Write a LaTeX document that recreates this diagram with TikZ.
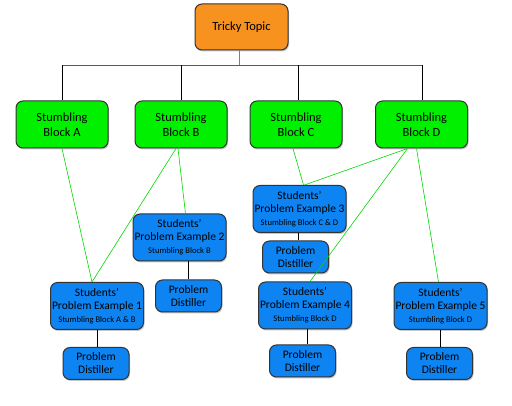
\documentclass[tikz,border=0pt]{standalone}
\usepackage{fontspec}
\setmainfont{Carlito}
\usetikzlibrary{shadows}
\definecolor{topicorange}{HTML}{F7921E}
\definecolor{blockgreen}{HTML}{00F000}
\definecolor{exblue}{HTML}{0D84F2}
\definecolor{boxedge}{HTML}{333333}

\begin{document}
\begin{tikzpicture}[x=1pt, y=-1pt,
  box/.style={draw=boxedge, line width=1pt, rounded corners=7pt, align=center,
    inner sep=0pt, drop shadow={shadow xshift=1pt, shadow yshift=-1.5pt, opacity=0.45}},
  topicbox/.style={box, fill=topicorange, minimum width=93pt, minimum height=46pt, font=\fontsize{12.5}{14}\selectfont},
  blockbox/.style={box, fill=blockgreen, minimum width=92pt, minimum height=47pt, font=\fontsize{12.5}{15}\selectfont},
  examplebox/.style={box, fill=exblue, minimum width=93pt, minimum height=47pt, font=\fontsize{11.5}{13}\selectfont},
  distillbox/.style={box, fill=exblue, minimum width=66pt, minimum height=32pt, font=\fontsize{11.5}{13}\selectfont},
  greenlink/.style={draw=green!85!black, line width=0.6pt}]
\useasboundingbox (0,0) rectangle (512,406);

% Topic and blocks
\node[topicbox] (topic) at (241.5,27) {Tricky Topic};
\node[blockbox] (A) at (62,124.5) {Stumbling\\Block A};
\node[blockbox] (B) at (181,124.5) {Stumbling\\Block B};
\node[blockbox] (C) at (296,124.5) {Stumbling\\Block C};
\node[blockbox] (D) at (421.5,124.5) {Stumbling\\Block D};

% Students' examples
\node[examplebox] (ex1) at (97,306) {Students'\\Problem Example 1\\{\fontsize{8.6}{10}\selectfont Stumbling Block A \& B}};
\node[examplebox] (ex2) at (179.5,237.5) {Students'\\Problem Example 2\\{\fontsize{8.6}{10}\selectfont Stumbling Block B}};
\node[examplebox] (ex3) at (299.5,209) {Students'\\Problem Example 3\\{\fontsize{8.6}{10}\selectfont Stumbling Block C \& D}};
\node[examplebox] (ex4) at (305,305.5) {Students'\\Problem Example 4\\{\fontsize{8.6}{10}\selectfont Stumbling Block D}};
\node[examplebox] (ex5) at (440.5,306) {Students'\\Problem Example 5\\{\fontsize{8.6}{10}\selectfont Stumbling Block D}};

% Distillers
\node[distillbox] (pd1) at (96,363.5) {Problem\\Distiller};
\node[distillbox] (pd2) at (188.5,296) {Problem\\Distiller};
\node[distillbox] (pd3) at (295.5,257) {Problem\\Distiller};
\node[distillbox] (pd4) at (302.5,361) {Problem\\Distiller};
\node[distillbox] (pd5) at (439.5,363.5) {Problem\\Distiller};

% Tree from topic to blocks
\coordinate (bus) at (239,65);
\draw[greenlink] ([xshift=-2.5pt]topic.south) -- (bus);
\draw[draw=black!65, line width=0.8pt] (A.north |- bus) -- ([xshift=0.5pt]D.north |- bus);
\draw[line width=0.8pt] (A.north) -- (A.north |- bus);
\draw[line width=0.8pt] (B.north) -- (B.north |- bus);
\draw[line width=0.8pt] ([xshift=2pt]C.north) -- ([xshift=2pt]C.north |- bus);
\draw[line width=0.8pt] ([xshift=0.5pt]D.north) -- ([xshift=0.5pt]D.north |- bus);

% Blocks to examples
\draw[greenlink] (A.south) -- ([xshift=-5pt]ex1.north);
\draw[greenlink] ([xshift=-5pt]B.south) -- ([xshift=-5pt]ex1.north);
\draw[greenlink] ([xshift=-3pt]B.south) -- ([xshift=6pt]ex2.north);
\draw[greenlink] ([xshift=-3pt]C.south) -- ([xshift=4pt]ex3.north);
\draw[greenlink] ([xshift=-14pt]D.south) -- ([xshift=5pt]ex3.north);
\draw[greenlink] ([xshift=-14pt]D.south) -- ([xshift=5pt]ex4.north);
\draw[greenlink] ([xshift=-5pt]D.south) -- ([xshift=-2pt]ex5.north);

% Examples to distillers
\draw[line width=0.8pt] (ex1.south) -- (ex1.south |- pd1.north);
\draw[line width=0.8pt] ([xshift=8.5pt]ex2.south) -- ([xshift=8.5pt]ex2.south |- pd2.north);
\draw[line width=0.8pt] ([xshift=-1.5pt]ex3.south) -- ([xshift=-1.5pt]ex3.south |- pd3.north);
\draw[line width=0.8pt] ([xshift=2pt]ex4.south) -- ([xshift=2pt]ex4.south |- pd4.north);
\draw[line width=0.8pt] (ex5.south) -- (ex5.south |- pd5.north);
\end{tikzpicture}
\end{document}
